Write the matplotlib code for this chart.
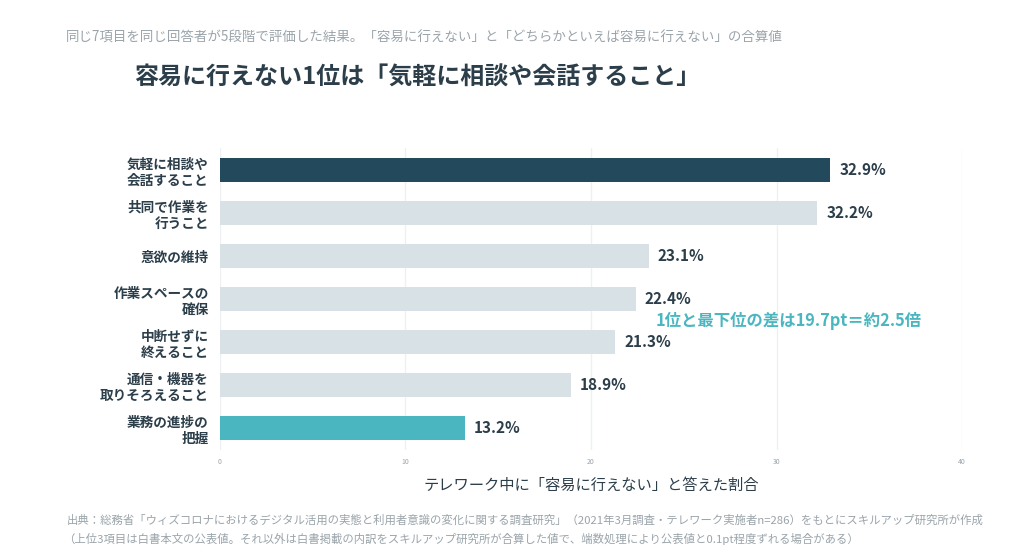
import matplotlib
matplotlib.use("Agg")
import matplotlib.pyplot as plt

plt.rcParams['font.family'] = ['Noto Sans CJK JP', 'DejaVu Sans']

categories = ['気軽に相談や\n会話すること', '共同で作業を\n行うこと', '意欲の維持',
              '作業スペースの\n確保', '中断せずに\n終えること', '通信・機器を\n取りそろえること',
              '業務の進捗の\n把握']
values = [32.9, 32.2, 23.1, 22.4, 21.3, 18.9, 13.2]
xticks = [0, 10, 20, 30, 40]

DARK = '#234a5c'
LIGHT = '#d7e1e6'
TEAL = '#4ab7c0'
TEXT = '#2b3e4a'
GRAY = '#9aa4aa'

colors = [LIGHT] * len(values)
colors[0] = DARK
colors[-1] = TEAL

fig = plt.figure(figsize=(10.24, 5.58), dpi=100)
ax = fig.add_axes([0.2148, 0.1944, 0.7247, 0.5395])

ypos = list(range(len(values)))
ax.barh(ypos, values, height=0.58, color=colors, zorder=2)
for y, v in zip(ypos, values):
    ax.text(v + 0.5, y, '%.1f%%' % v, va='center', ha='left', fontsize=11,
            fontweight='bold', color=TEXT)

ax.set_xlim(0, 40)
ax.set_ylim(len(values) - 0.5, -0.5)
ax.set_xticks(xticks)
ax.set_xticklabels([str(t) for t in xticks], fontsize=5, color=GRAY)
ax.set_yticks(ypos)
ax.set_yticklabels(categories, fontsize=9.8, fontweight='bold', color=TEXT,
                   linespacing=1.2, multialignment='right')
ax.tick_params(length=0, pad=8)
ax.tick_params(axis='x', pad=6)
ax.grid(axis='x', color='#eef0f1', linewidth=1, zorder=0)
for s in ax.spines.values():
    s.set_visible(False)

ax.set_xlabel('テレワーク中に「容易に行えない」と答えた割合', fontsize=11, color=TEXT,
              labelpad=8)

ax.text(23.5, 3.5, '1位と最下位の差は19.7pt＝約2.5倍', va='center', ha='left',
        fontsize=11.8, fontweight='bold', color=TEAL)

fig.text(0.064, 0.933, '同じ7項目を同じ回答者が5段階で評価した結果。「容易に行えない」と「どちらかといえば容易に行えない」の合算値',
         fontsize=9.7, color=GRAY, va='center')
fig.text(0.131, 0.86, '容易に行えない1位は「気軽に相談や会話すること」',
         fontsize=17.3, fontweight='bold', color=TEXT, va='center')
fig.text(0.065, 0.068, '出典：総務省「ウィズコロナにおけるデジタル活用の実態と利用者意識の変化に関する調査研究」（2021年3月調査・テレワーク実施者n=286）をもとにスキルアップ研究所が作成',
         fontsize=8.2, color=GRAY, va='center')
fig.text(0.062, 0.034, '（上位3項目は白書本文の公表値。それ以外は白書掲載の内訳をスキルアップ研究所が合算した値で、端数処理により公表値と0.1pt程度ずれる場合がある）',
         fontsize=8.2, color=GRAY, va='center')

fig.savefig('out.png', dpi=100, facecolor='white')
